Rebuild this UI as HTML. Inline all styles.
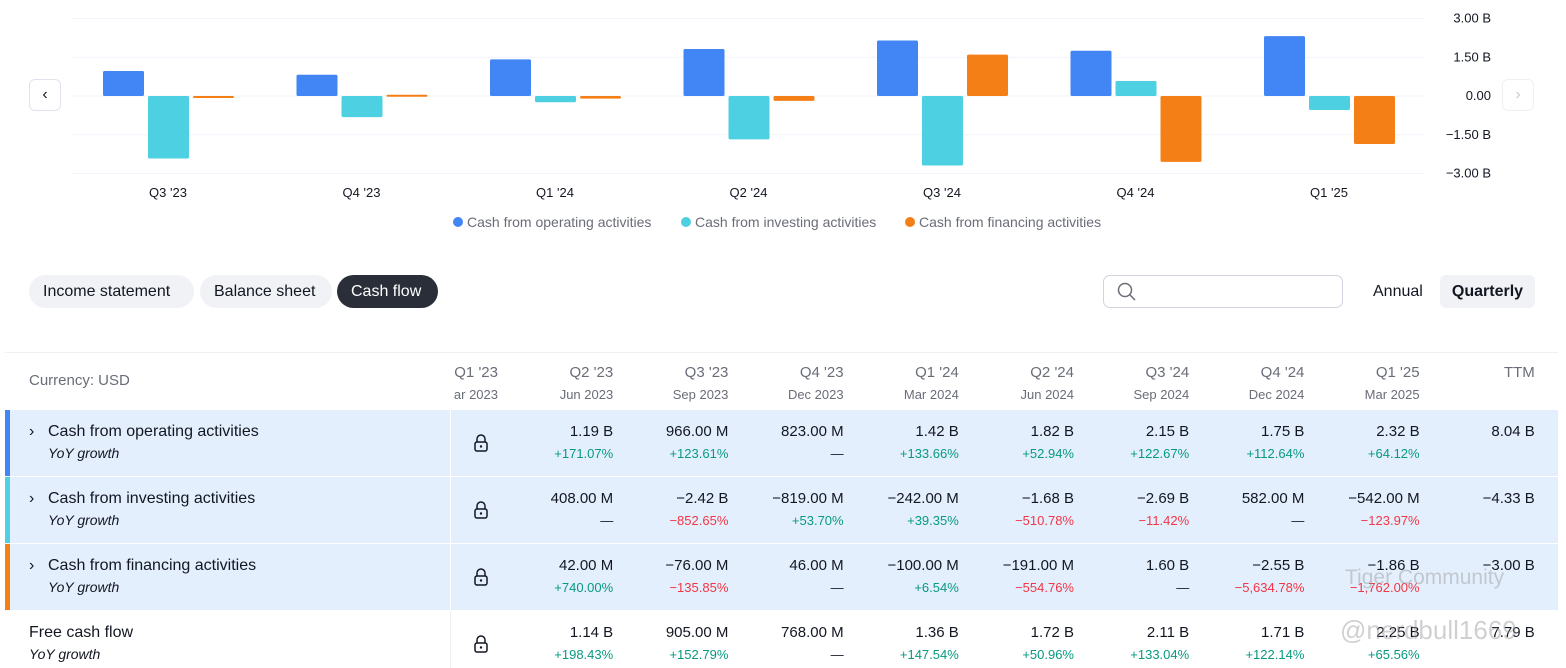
<!DOCTYPE html>
<html><head><meta charset="utf-8">
<style>
body{margin:0;width:1566px;height:668px;overflow:hidden;background:#fff;font-family:"Liberation Sans","DejaVu Sans",sans-serif;color:#131722;position:relative}
.abs{position:absolute}
.pill{position:absolute;top:275px;height:33px;line-height:33px;border-radius:17px;background:#f0f2f5;font-size:16px;padding:0 14px;box-sizing:border-box}
.row{position:absolute;left:5px;width:1553px;background:#e3effd}
.cell{position:absolute;text-align:right;width:110px;font-size:15px}
.sub{font-size:13px}
.g{color:#089981}.r{color:#f23645}
.lbl{position:absolute;left:48px;font-size:16px}
.yoy{position:absolute;left:48px;font-size:14px;font-style:italic}
</style></head><body>
<svg class="abs" style="left:0;top:0" width="1566" height="240" id="chart"></svg>
<div class="abs" style="left:29px;top:79px;width:32px;height:32px;border:1px solid #e0e3eb;border-radius:6px;box-sizing:border-box;text-align:center;line-height:30px;font-size:16px;color:#131722">&#8249;</div>
<div class="abs" style="left:1502px;top:79px;width:32px;height:32px;border:1px solid #eef0f4;border-radius:6px;box-sizing:border-box;text-align:center;line-height:30px;font-size:16px;color:#c8cbd3">&#8250;</div>

<div class="pill" style="left:29px;width:165px">Income statement</div>
<div class="pill" style="left:200px;width:132px">Balance sheet</div>
<div class="pill" style="left:337px;width:101px;background:#2a2e39;color:#fff">Cash flow</div>
<div class="abs" style="left:1103px;top:275px;width:240px;height:33px;border:1px solid #d1d4dc;border-radius:7px;box-sizing:border-box">
<svg width="20" height="20" style="position:absolute;left:13px;top:6px"><circle cx="8" cy="8" r="6.5" fill="none" stroke="#6a6d78" stroke-width="1.5"/><line x1="13" y1="13" x2="18" y2="18" stroke="#6a6d78" stroke-width="1.5"/></svg></div>
<div class="abs" style="left:1364px;top:275px;height:33px;line-height:33px;font-size:16px;padding:0 9px">Annual</div>
<div class="abs" style="left:1440px;top:275px;width:95px;height:33px;line-height:33px;font-size:16px;font-weight:bold;background:#f0f2f5;border-radius:6px;text-align:center">Quarterly</div>

<div class="abs" style="left:5px;top:352px;width:1553px;height:1px;background:#eef0f3"></div>
<div class="abs" style="left:29px;top:372px;font-size:15px;color:#6a6d78">Currency: USD</div>
<div id="table"></div>
<div class="abs" style="left:1345px;top:566px;font-size:21px;color:rgba(150,150,150,.45)">Tiger Community</div>
<div class="abs" style="left:1340px;top:615px;font-size:26px;color:rgba(150,150,150,.45)">@nerdbull1669</div>

<script>
const categories=["Q3 '23","Q4 '23","Q1 '24","Q2 '24","Q3 '24","Q4 '24","Q1 '25"];
const operating=[0.966,0.823,1.42,1.82,2.15,1.75,2.32];
const investing=[-2.42,-0.819,-0.242,-1.68,-2.69,0.582,-0.542];
const financing=[-0.076,0.046,-0.1,-0.191,1.60,-2.55,-1.86];
const yTicks=[3,1.5,0,-1.5,-3];
const yTickLabels=["3.00 B","1.50 B","0.00","\u22121.50 B","\u22123.00 B"];
const seriesNames=["Cash from operating activities","Cash from investing activities","Cash from financing activities"];
const colors=["#4285f4","#4dd0e1","#f57f17"];
const NS="http://www.w3.org/2000/svg";
const svg=document.getElementById('chart');
const y=v=>96-v*(77.5/3);
const x=i=>168+i*193.5;
function mk(t,a){const e=document.createElementNS(NS,t);for(const k in a)e.setAttribute(k,a[k]);svg.appendChild(e);return e;}
yTicks.forEach((t,i)=>{
 const l=mk('line',{x1:72,x2:1425,y1:y(t),y2:y(t),stroke:'#f0f3fa','stroke-width':1});
 
 
 const tx=mk('text',{x:1491,y:y(t)+4,'text-anchor':'end','font-size':13,fill:'#131722'});
 tx.textContent=yTickLabels[i];
 
 
});
[operating,investing,financing].forEach((s,si)=>{
 s.forEach((v,i)=>{
  const bx=x(i)-65+si*45, top=Math.min(y(v),y(0)), h=Math.max(Math.abs(y(v)-y(0)),2);
  const r=mk('rect',{x:bx,y:top,width:41,height:h,fill:colors[si],rx:1.5});
  
  
 });
});
categories.forEach((c,i)=>{
 const t=mk('text',{x:x(i),y:197,'text-anchor':'middle','font-size':13,fill:'#131722'});
 t.textContent=c;
 
 
});
const lx=[453,681,905];
seriesNames.forEach((n,i)=>{
 const c=mk('circle',{cx:lx[i]+5,cy:222,r:5,fill:colors[i]});
 
 
 const t=mk('text',{x:lx[i]+14,y:227,'font-size':14,fill:'#6a6d78'});
 t.textContent=n;
 
 
});

const colQ=["Q1 '23","Q2 '23","Q3 '23","Q4 '23","Q1 '24","Q2 '24","Q3 '24","Q4 '24","Q1 '25","TTM"];
const colD=["ar 2023","Jun 2023","Sep 2023","Dec 2023","Mar 2024","Jun 2024","Sep 2024","Dec 2024","Mar 2025",""];
const rowNames=["Cash from operating activities","Cash from investing activities","Cash from financing activities","Free cash flow"];
const rowVals=[
 ["","1.19 B","966.00 M","823.00 M","1.42 B","1.82 B","2.15 B","1.75 B","2.32 B","8.04 B"],
 ["","408.00 M","\u22122.42 B","\u2212819.00 M","\u2212242.00 M","\u22121.68 B","\u22122.69 B","582.00 M","\u2212542.00 M","\u22124.33 B"],
 ["","42.00 M","\u221276.00 M","46.00 M","\u2212100.00 M","\u2212191.00 M","1.60 B","\u22122.55 B","\u22121.86 B","\u22123.00 B"],
 ["","1.14 B","905.00 M","768.00 M","1.36 B","1.72 B","2.11 B","1.71 B","2.25 B","7.79 B"]];
const rowYoY=[
 ["","+171.07%","+123.61%","\u2014","+133.66%","+52.94%","+122.67%","+112.64%","+64.12%",""],
 ["","\u2014","\u2212852.65%","+53.70%","+39.35%","\u2212510.78%","\u221211.42%","\u2014","\u2212123.97%",""],
 ["","+740.00%","\u2212135.85%","\u2014","+6.54%","\u2212554.76%","\u2014","\u22125,634.78%","\u22121,762.00%",""],
 ["","+198.43%","+152.79%","\u2014","+147.54%","+50.96%","+133.04%","+122.14%","+65.56%",""]];
let h='';
const cr=i=>498+i*115.2;
colQ.forEach((q,i)=>{
 h+=`<div class="cell" style="left:${cr(i)-110}px;top:364px;color:#6a6d78;font-size:15px">${q}</div>`;
 h+=`<div class="cell sub" style="left:${cr(i)-110}px;top:387px;color:#6a6d78">${colD[i]}</div>`;
});
const tops=[410,477,544,611];
rowNames.forEach((n,r)=>{
 const t=tops[r];
 if(r<3){h+=`<div class="row" style="top:${t}px;height:66px"><div style="position:absolute;left:0;top:0;width:5px;height:66px;background:${colors[r]}"></div><div style="position:absolute;left:445px;top:0;width:1px;height:66px;background:#fff"></div></div>`;
  h+=`<div class="abs" style="left:29px;top:${t+13}px;font-size:16px">&#8250;</div>`;}
 else h+=`<div class="abs" style="left:450px;top:${t}px;width:1px;height:57px;background:#eef0f3"></div>`;
 const lx=r<3?48:29;
 h+=`<div class="lbl" style="left:${lx}px;top:${t+13}px">${n}</div>`;
 h+=`<div class="yoy" style="left:${lx}px;top:${t+35}px">YoY growth</div>`;
 h+=`<svg class="abs" style="left:473px;top:${t+24}px" width="16" height="18"><path d="M4 8V5a4 4 0 0 1 8 0v3" fill="none" stroke="#131722" stroke-width="1.5"/><rect x="2" y="8" width="12" height="9" rx="2" fill="none" stroke="#131722" stroke-width="1.5"/><circle cx="8" cy="12.5" r="1.2" fill="#131722"/></svg>`;
 for(let i=1;i<10;i++){
  h+=`<div class="cell" style="left:${cr(i)-110}px;top:${t+13}px">${rowVals[r][i]}</div>`;
  const y2=rowYoY[r][i];const cl=y2.startsWith('+')?'g':(y2.startsWith('\u2212')?'r':'');
  h+=`<div class="cell sub ${cl}" style="left:${cr(i)-110}px;top:${t+36}px">${y2}</div>`;
 }
});
document.getElementById('table').innerHTML=h;
</script>
</body></html>
